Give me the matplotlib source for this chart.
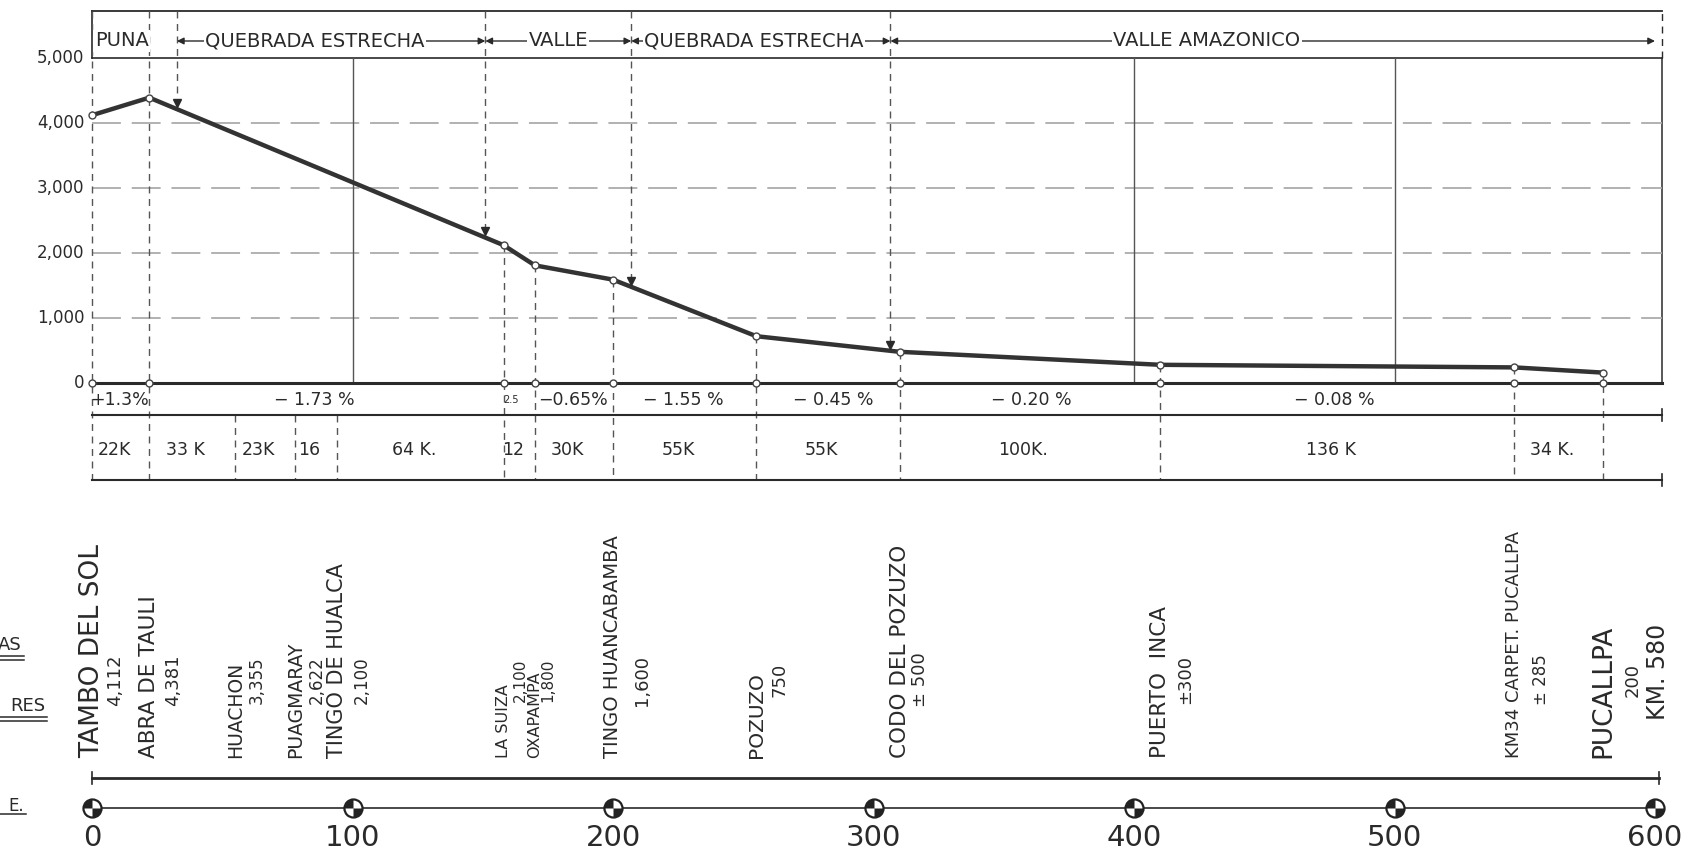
import numpy as np
import matplotlib
matplotlib.use('Agg')
import matplotlib.pyplot as plt
from matplotlib.path import Path
from matplotlib.lines import Line2D

# --- values ------------------------------------------------------------
# profile vertices (km, altitude m)
station_km = [0, 22, 158, 170, 200, 255, 310, 410, 546, 580]
station_elev = [4120, 4390, 2120, 1810, 1590, 720, 480, 280, 240, 160]

# lengths of the stretches between named places
leg_km = [22, 33, 23, 16, 64, 12, 30, 55, 55, 100, 136, 34]
leg_text = ['22K', '33 K', '23K', '16', '64 K.', '12', '30K', '55K', '55K',
            '100K.', '136 K', '34 K.']

# gradients
grade_text = ['+1.3%', '− 1.73 %', '2.5', '−0.65%', '− 1.55 %', '− 0.45 %',
              '− 0.20 %', '− 0.08 %']
grade_km = [10.5, 85.5, 161, 184.6, 227, 284.7, 360.6, 477]

# zones in the header band
zone_names = ['PUNA', 'QUEBRADA ESTRECHA', 'VALLE', 'QUEBRADA ESTRECHA',
              'VALLE AMAZONICO']
zone_start = [0, 32.6, 151, 207, 306.5]
zone_end = [22, 151, 207, 306.5, 600]
zone_text_km = [11.4, 85.5, 179, 254, 428]

# named places (one per stretch boundary)
place_names = ['TAMBO DEL SOL', 'ABRA DE TAULI', 'HUACHON', 'PUAGMARAY',
               'TINGO DE HUALCA', 'LA SUIZA', 'OXAPAMPA', 'TINGO HUANCABAMBA',
               'POZUZO', 'CODO DEL POZUZO', 'PUERTO  INCA',
               'KM34 CARPET. PUCALLPA', 'PUCALLPA']
place_alt = ['4,112', '4,381', '3,355', '2,622', '2,100', '2,100', '1,800',
             '1,600', '750', '± 500', '±300', '± 285', '200']
place_size = [19, 15.5, 13.5, 13.5, 15, 11.5, 11.5, 14, 14.5, 15.5, 15.5, 13, 19]
alt_size = [13, 13, 12, 12, 12, 11, 11, 13, 13, 13, 13, 12, 13]
alt_offset = [8.7, 9, 8.2, 8.2, 9.7, 6.5, 5, 11, 9, 8, 9.6, 10.3, 11.3]

y_ticks = [5000, 4000, 3000, 2000, 1000, 0]
y_labels = ['5,000', '4,000', '3,000', '2,000', '1,000', '0']
km_ticks = [0, 100, 200, 300, 400, 500, 600]
km_labels = ['0', '100', '200', '300', '400', '500', '600']

ink = '#2a2a2a'
grid = '#ababab'
dash = (0, (5, 4))

fig = plt.figure(figsize=(17.02, 8.56), dpi=100)
fig.patch.set_facecolor('white')
x0, x1 = 92 / 1702, 1655 / 1702
ax = fig.add_axes([x0, 0, x1 - x0, 1])
ax.set_xlim(0, 600)


def row(px):
    # pixel row of the sheet -> altitude units of the profile
    return (383 - px) * 5000 / 325


ax.set_ylim(row(856), row(0))
ax.axis('off')

right = 602.5
bounds = np.concatenate([[0], np.cumsum(leg_km)])

# frame and grid of the profile
ax.plot([0, right], [row(11)] * 2, color=ink, lw=1.3)
ax.plot([0, 0], [row(11), 5000], color=ink, lw=1.2)
ax.plot([right, right], [0, 5000], color=ink, lw=1.1)
ax.plot([right, right], [5000, row(11)], color=ink, lw=1, ls=dash)
ax.plot([0, right], [5000, 5000], color=ink, lw=1.2)
for v in y_ticks[1:-1]:
    ax.plot([0, right], [v, v], color=grid, lw=1.3, ls=(0, (16, 6)))
for k in [100, 400, 500]:
    ax.plot([k, k], [0, 5000], color='#555555', lw=1)
ax.plot([0, right], [0, 0], color=ink, lw=2.2)

for v, lab in zip(y_ticks, y_labels):
    ax.text(-3, v, lab, ha='right', va='center', fontsize=12, color=ink)

# profile
ax.plot(station_km, station_elev, color='#333333', lw=3.2, zorder=4)
ax.plot(station_km, station_elev, ls='', marker='o', ms=5, mfc='white',
        mec='#444444', mew=1, zorder=5)
ax.plot(station_km, [0] * len(station_km), ls='', marker='o', ms=5,
        mfc='white', mec='#444444', mew=1, zorder=5)

# dashed station lines down through the bands
for k, e in zip(station_km, station_elev):
    top = row(11) if k < 30 else e
    ax.plot([k, k], [top, row(480)], color='#555555', lw=1, ls=dash, zorder=2)
for k in bounds:
    if k not in station_km:
        ax.plot([k, k], [row(415), row(480)], color='#555555', lw=1, ls=dash)

# zone boundaries with arrows down to the profile
for k in zone_start[1:]:
    tip = np.interp(k, station_km, station_elev)
    ax.plot([k, k], [row(11), tip + 90], color='#555555', lw=1, ls=dash)
    ax.plot(k, tip + 95, marker='v', ms=6, color=ink, zorder=6)

# header band
hy = row(41)
for name, a, b, tx in zip(zone_names, zone_start, zone_end, zone_text_km):
    ax.annotate('', xy=(b, hy), xytext=(a, hy),
                arrowprops=dict(arrowstyle='<|-|>', color=ink, lw=1,
                                mutation_scale=10, shrinkA=0, shrinkB=0))
    ax.text(tx, hy, name, ha='center', va='center', fontsize=14, color=ink,
            bbox=dict(fc='white', ec='none', pad=1.0), zorder=6)

# gradient band
ax.plot([0, right], [row(415)] * 2, color=ink, lw=1.5)
ax.plot([right, right], [row(409), row(421)], color=ink, lw=1.2)
for k, t in zip(grade_km, grade_text):
    ax.text(k, row(400), t, ha='center', va='center', color=ink,
            fontsize=7 if t == '2.5' else 12.5)

# distance band
ax.plot([0, right], [row(480)] * 2, color=ink, lw=1.5)
ax.plot([right, right], [row(474), row(486)], color=ink, lw=1.2)
mids = (bounds[:-1] + bounds[1:]) / 2 - 2.5
for k, t in zip(mids, leg_text):
    ax.text(k, row(450), t, ha='center', va='center', fontsize=12.5, color=ink)

# place names
for k, name, alt, fs, afs, off in zip(bounds, place_names, place_alt,
                                       place_size, alt_size, alt_offset):
    ax.text(k, row(758), name, rotation=90, ha='center', va='bottom',
            fontsize=fs, color=ink)
    ax.text(k + off, row(680), alt, rotation=90, ha='center', va='center',
            fontsize=afs, color=ink)
ax.text(bounds[-1] + 21, row(672), 'KM. 580', rotation=90, ha='center',
        va='center', fontsize=17, color=ink)

# kilometre scale
ax.plot([0, 601.5], [row(778)] * 2, color=ink, lw=2)
for k in [0, 601.5]:
    ax.plot([k, k], [row(772), row(784)], color=ink, lw=1.2)
ax.plot([0, 600], [row(808)] * 2, color=ink, lw=1.2)
bench = Path.make_compound_path(Path.wedge(90, 180), Path.wedge(270, 360))
ax.plot(km_ticks, [row(808)] * len(km_ticks), ls='', marker='o', ms=13,
        mfc='white', mec='#222222', mew=1.6, zorder=5)
ax.plot(km_ticks, [row(808)] * len(km_ticks), ls='', marker=bench, ms=13,
        color='#222222', mew=0, zorder=6)
for k, lab in zip(km_ticks, km_labels):
    ax.text(k, row(838), lab, ha='center', va='center', fontsize=21, color=ink)

# nothing is cut at the axes edges
for ln in ax.lines:
    ln.set_clip_on(False)

# cut-off captions at the left margin
W, H = 1702, 856
for txt, xr, yr, ul in [('AS', 22, 645, 24), ('RES', 45, 706, 47)]:
    fig.text(xr / W, 1 - yr / H, txt, ha='right', va='center', fontsize=13,
             color=ink)
    for dy in (11, 15):
        fig.add_artist(Line2D([0, ul / W], [1 - (yr + dy) / H] * 2,
                              transform=fig.transFigure, color=ink, lw=1.1))
fig.text(24 / W, 1 - 806 / H, 'E.', ha='right', va='center', fontsize=12,
         color=ink)
fig.add_artist(Line2D([0, 26 / W], [1 - 814 / H] * 2,
                      transform=fig.transFigure, color=ink, lw=1.1))

fig.savefig('out.png', dpi=100, facecolor='white')
